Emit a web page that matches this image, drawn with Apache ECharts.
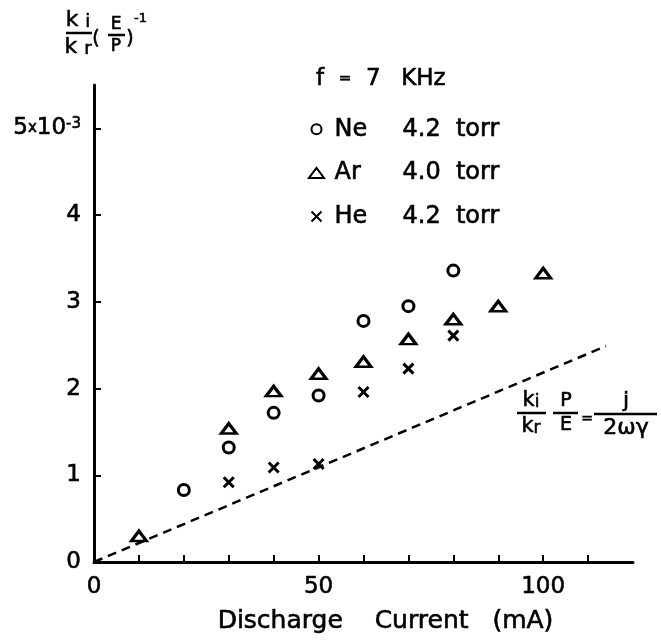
<!DOCTYPE html>
<html>
<head>
<meta charset="utf-8">
<script src="https://cdn.jsdelivr.net/npm/echarts@6/dist/echarts.min.js"></script>
<style>
  html, body { margin: 0; padding: 0; background: #fff; }
  #chart { width: 661px; height: 643px; }
</style>
</head>
<body>
<div id="chart"></div>
<script>
// values
const neX = [20, 30, 40, 50, 60, 70, 80]
const neY = [0.83, 1.32, 1.72, 1.92, 2.78, 2.95, 3.36]
const arX = [10, 30, 40, 50, 60, 70, 80, 90, 100]
const arY = [0.30, 1.54, 1.97, 2.17, 2.31, 2.57, 2.80, 2.95, 3.33]
const heX = [30, 40, 50, 60, 70, 80]
const heY = [0.92, 1.09, 1.13, 1.96, 2.23, 2.61]
// j / (2 w gamma) line
const lineX = [0, 114]
const lineY = [0, 2.49]

const xTicks = [10, 20, 30, 40, 50, 60, 70, 80, 90, 100, 110]
const xLabels = [0, 50, 100]
const yTicks = [1, 2, 3, 4, 5]
const yLabels = [0, 1, 2, 3, 4, 5]

const seriesNames = ['Ne', 'Ar', 'He']
const pressures = ['4.2  torr', '4.0  torr', '4.2  torr']

const FONT = '"DejaVu Sans", sans-serif'
const BOLDEN = 0.6 // thin outline so the lettering looks as heavy as the scan
const pts = (xs, ys) => xs.map((x, i) => [x, ys[i]])

const triPath = 'path://M0,10L7.5,0L15,10Z'
const crossPath = 'path://M0,0L10,10M10,0L0,10'

const markStyle = { color: 'rgba(0,0,0,0)', borderColor: '#000', borderWidth: 3, opacity: 1 }

function txt(text, x, y, size, align, vAlign, rich) {
  return {
    type: 'text',
    style: {
      text: text, x: x, y: y, align: align, verticalAlign: vAlign,
      font: size + 'px ' + FONT, fill: '#000', stroke: '#000', lineWidth: BOLDEN,
      rich: rich || {}
    }
  }
}

// stacked fraction: numerator, bar, denominator
function frac(cx, barY, x1, x2, num, den, size) {
  const rich = { s: { fontSize: size - 4, fontFamily: FONT, verticalAlign: 'bottom', fill: '#000', stroke: '#000', lineWidth: BOLDEN } }
  return [
    txt(num, cx, barY - 2, size, 'center', 'bottom', rich),
    { type: 'line', shape: { x1: x1, y1: barY, x2: x2, y2: barY }, style: { stroke: '#000', lineWidth: 2.5 } },
    txt(den, cx, barY + 3, size, 'center', 'top', rich)
  ]
}

const chart = echarts.init(document.getElementById('chart'))

const option = {
  animation: false,
  backgroundColor: '#fff',
  textStyle: { fontFamily: FONT, color: '#000' },
  title: {
    text: 'f  {e|=}  7  {k|KHz}',
    left: 311, top: 63,
    textStyle: {
      fontFamily: FONT, fontSize: 23, fontWeight: 'normal', color: '#000',
      textBorderColor: '#000', textBorderWidth: BOLDEN,
      rich: {
        e: { fontSize: 15, fontFamily: FONT, color: '#000', textBorderColor: '#000', textBorderWidth: BOLDEN },
        k: { fontSize: 23, fontFamily: FONT, color: '#000', textBorderColor: '#000', textBorderWidth: BOLDEN, padding: [0, 0, 0, 6] }
      }
    }
  },
  legend: {
    data: seriesNames,
    orient: 'vertical',
    left: 303, top: 112,
    itemWidth: 26, itemHeight: 10,
    itemGap: 19,
    selectedMode: false,
    formatter: name => '{n|' + name + '}{p|' + pressures[seriesNames.indexOf(name)] + '}',
    textStyle: {
      color: '#000',
      rich: {
        n: { fontFamily: FONT, fontSize: 24, width: 68, color: '#000', textBorderColor: '#000', textBorderWidth: BOLDEN },
        p: { fontFamily: FONT, fontSize: 24, color: '#000', textBorderColor: '#000', textBorderWidth: BOLDEN }
      }
    }
  },
  grid: { left: 94, right: 28, top: 85, bottom: 81 },
  xAxis: {
    type: 'value', min: 0, max: 120,
    name: 'Discharge    Current   (mA)',
    nameLocation: 'middle', nameGap: 47,
    nameTextStyle: { fontFamily: FONT, fontSize: 25, color: '#000', padding: [0, 0, 0, 44], textBorderColor: '#000', textBorderWidth: BOLDEN },
    axisLine: { lineStyle: { color: '#000', width: 3 } },
    axisTick: { inside: true, length: 7, lineStyle: { color: '#000', width: 2 }, customValues: xTicks },
    axisLabel: { customValues: xLabels, fontSize: 23, color: '#000', fontFamily: FONT, margin: 14, textBorderColor: '#000', textBorderWidth: BOLDEN },
    splitLine: { show: false }
  },
  yAxis: {
    type: 'value', min: 0, max: 5.5,
    axisLine: { lineStyle: { color: '#000', width: 3 } },
    axisTick: { inside: true, length: 7, lineStyle: { color: '#000', width: 2 }, customValues: yTicks },
    axisLabel: {
      customValues: yLabels, fontSize: 23, color: '#000', fontFamily: FONT, margin: 13,
      textBorderColor: '#000', textBorderWidth: BOLDEN,
      formatter: v => v === 5 ? '5{x|x}10{sup|-3}' : String(v),
      rich: {
        x: { fontSize: 15, fontFamily: FONT, color: '#000', textBorderColor: '#000', textBorderWidth: BOLDEN },
        sup: { fontSize: 15, fontFamily: FONT, color: '#000', verticalAlign: 'top', textBorderColor: '#000', textBorderWidth: BOLDEN }
      }
    },
    splitLine: { show: false }
  },
  series: [
    {
      name: 'Ne', type: 'scatter', symbol: 'circle', symbolSize: 11,
      itemStyle: markStyle, data: pts(neX, neY)
    },
    {
      name: 'Ar', type: 'scatter', symbol: triPath, symbolSize: [15, 10],
      itemStyle: markStyle, data: pts(arX, arY)
    },
    {
      name: 'He', type: 'scatter', symbol: crossPath, symbolSize: 10,
      itemStyle: markStyle, data: pts(heX, heY)
    },
    {
      name: 'theory', type: 'line', symbol: 'none', silent: true,
      lineStyle: { color: '#000', width: 2.5, type: [9, 6] },
      data: pts(lineX, lineY)
    }
  ],
  graphic: [
    // y axis title  ki/kr (E/P)^-1
    ...frac(78, 33, 66, 92, 'k {s|i}', 'k {s|r}', 22),
    txt('(', 96, 39, 19, 'center', 'middle'),
    ...frac(116, 35, 108, 125, 'E', 'P', 17),
    txt(')', 130, 39, 19, 'center', 'middle'),
    txt('-1', 134, 19, 13, 'left', 'middle'),
    // equation of the dashed line
    ...frac(531, 413, 517, 546, 'k{s|i}', 'k{s|r}', 21),
    ...frac(566, 413, 553, 578, 'P', 'E', 19),
    txt('=', 587, 419, 14, 'center', 'middle'),
    ...frac(626, 414, 594, 657, 'j', '2ωγ', 22)
  ]
}

chart.setOption(option)
</script>
</body>
</html>
